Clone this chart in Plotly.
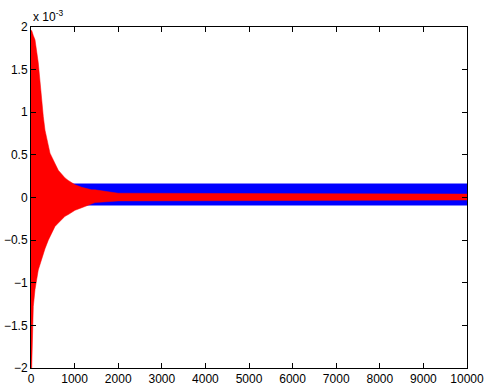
import plotly.graph_objects as go

# Envelopes (values in units of 1e-3)
blue_x = [0, 15, 30, 60, 10000]
blue_upper = [1.9, 1.0, 0.17, 0.16, 0.16]
blue_lower = [-1.5, -1.3, -0.10, -0.09, -0.09]

red_x = [0, 16, 53, 92, 167, 245, 282, 321, 397, 436, 550, 626, 780, 855, 1009, 1163, 1392, 1468, 2000, 10000]
red_upper = [1.96, 1.96, 1.9, 1.85, 1.58, 1.11, 0.95, 0.79, 0.6, 0.52, 0.4, 0.32, 0.23, 0.2, 0.15, 0.12, 0.09, 0.09, 0.05, 0.04]
red_lower = [-2.0, -2.0, -1.28, -1.08, -0.85, -0.72, -0.65, -0.6, -0.5, -0.46, -0.34, -0.3, -0.22, -0.2, -0.15, -0.12, -0.07, -0.06, -0.04, -0.03]

x_ticks = [0, 1000, 2000, 3000, 4000, 5000, 6000, 7000, 8000, 9000, 10000]
y_ticks = [-2, -1.5, -1, -0.5, 0, 0.5, 1, 1.5, 2]

FONT = "Liberation Sans, Arial, sans-serif"

fig = go.Figure()

def band(xs, lo, hi, color):
    fig.add_trace(go.Scatter(x=xs, y=lo, mode="lines", line=dict(color=color, width=0.5),
                             showlegend=False, hoverinfo="skip"))
    fig.add_trace(go.Scatter(x=xs, y=hi, mode="lines", line=dict(color=color, width=0.5),
                             fill="tonexty", fillcolor=color, showlegend=False, hoverinfo="skip"))

band(blue_x, blue_lower, blue_upper, "#0000ff")
band(red_x, red_lower, red_upper, "#ff0000")

axis_common = dict(
    showgrid=False, zeroline=False, showline=True, linecolor="black", linewidth=1,
    mirror="allticks", ticks="inside", ticklen=5, tickcolor="black", tickwidth=1,
    automargin=False, ticklabeloverflow="allow",
    tickfont=dict(family=FONT, size=12, color="black"),
)

fig.update_xaxes(range=[0, 10000], tickvals=x_ticks, tickformat="d", **axis_common)
fig.update_yaxes(range=[-2, 2], tickvals=y_ticks, **axis_common)

fig.add_annotation(text="x 10<sup>-3</sup>", xref="paper", yref="paper", x=0, y=1,
                   xanchor="left", yanchor="bottom", showarrow=False, yshift=1,
                   font=dict(family=FONT, size=12, color="black"))

fig.update_layout(
    width=484, height=387,
    margin=dict(l=31, r=17, t=27, b=19, autoexpand=False),
    paper_bgcolor="white", plot_bgcolor="white",
)

fig.write_html("out.html", config={"displayModeBar": False},
               post_script="document.body.style.margin='0';")
